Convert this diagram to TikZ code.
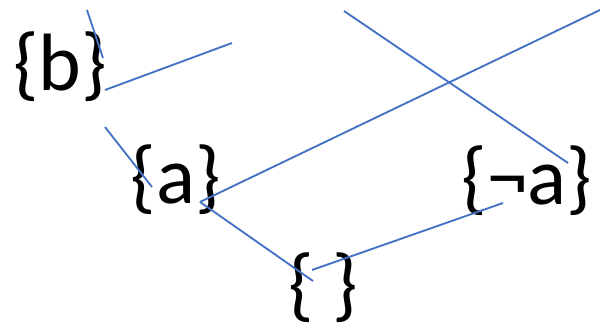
\documentclass[tikz,border=0pt]{standalone}
\usepackage{fontspec}
\setmainfont{Carlito}
\definecolor{arista}{RGB}{68,114,196}
\tikzset{
  conj/.style={font=\fontsize{61}{70}\selectfont, inner sep=0pt},
  lado/.style={arista, line width=1.4pt}
}
\begin{document}
\begin{tikzpicture}[x=0.75pt, y=-0.75pt]
  \useasboundingbox (0,0) rectangle (600,331);

  % Conjuntos
  \node[conj] (b) at (60,67) {\{b\}};
  \node[conj] (a) at (176,180) {\{a\}};
  \node[conj] (na) at (527,181) {\{¬a\}};
  \node[conj] (vacio) at (323,288) {\{ \}};

  % Extremos de las aristas
  \coordinate (b1) at (87,10);
  \coordinate (b2) at (103,58);
  \coordinate (b3) at (105,90);
  \coordinate (b4) at (232,43);
  \coordinate (b5) at (105,127);
  \coordinate (a1) at (152,187);
  \coordinate (a2) at (200,202);
  \coordinate (sup) at (600,10);
  \coordinate (v1) at (313,281);
  \coordinate (v2) at (312,270);
  \coordinate (na1) at (503,203);
  \coordinate (arr) at (344,11);
  \coordinate (na2) at (568,163);

  % Aristas
  \draw[lado] (b1) -- (b2);
  \draw[lado] (b3) -- (b4);
  \draw[lado] (b5) -- (a1);
  \draw[lado] (a2) -- (sup);
  \draw[lado] (a2) -- (v1);
  \draw[lado] (v2) -- (na1);
  \draw[lado] (arr) -- (na2);
\end{tikzpicture}
\end{document}
